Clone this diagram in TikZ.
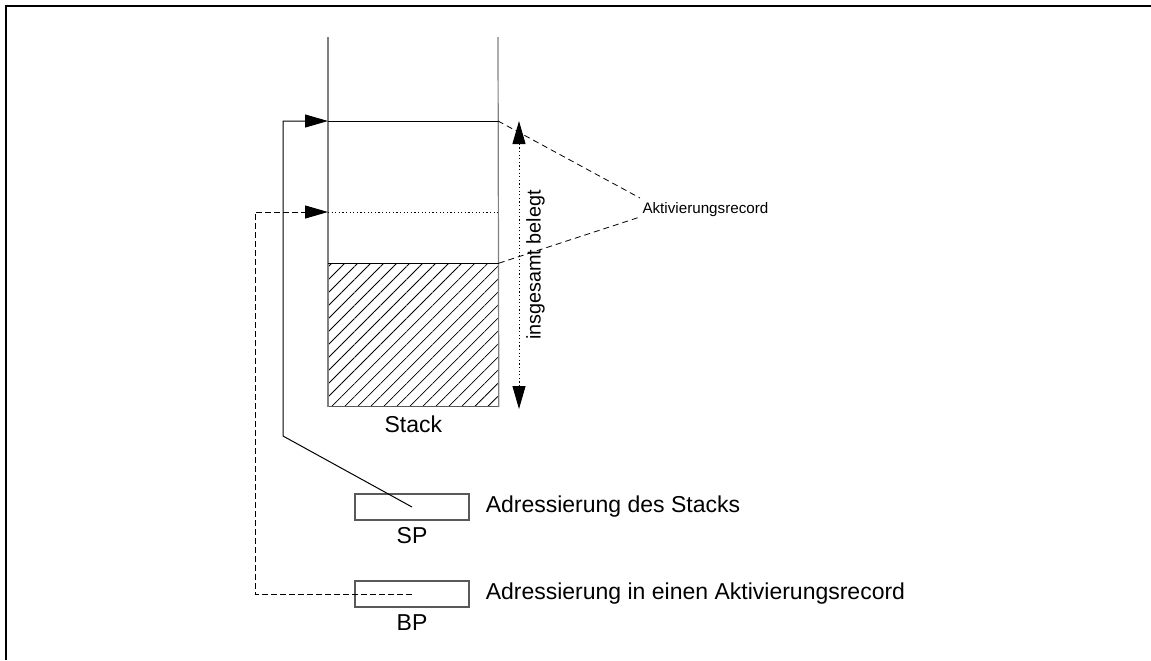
\documentclass[tikz,border=0pt]{standalone}
\usepackage{fontspec}
\setmainfont{Liberation Sans}
\usetikzlibrary{positioning,arrows.meta,patterns.meta}

\tikzset{
  wall/.style={gray, line width=0.6pt},
  ptr/.style={-{Triangle[length=11.5pt,width=6.5pt]}},
  reg/.style={draw=gray!70!black, line width=0.6pt, minimum width=57pt, minimum height=13pt, inner sep=0pt},
  lbl/.style={font=\fontsize{11.5}{13}\selectfont},
  brace/.style={dash pattern=on 3pt off 2pt, line width=0.4pt},
  fine/.style={dash pattern=on 0.6pt off 1.2pt},
}

\begin{document}
\begin{tikzpicture}[x=0.5pt, y=-0.5pt, line width=0.5pt]
  \useasboundingbox (0,0) rectangle (1151,660);
  \draw[line width=1pt] (6,660) -- (6,6) -- (1151,6);

  % belegter Teil und Stackwaende
  \node[draw=gray!70!black, line width=0.6pt,
        pattern={Lines[angle=45,distance=4.6pt,line width=0.4pt]},
        minimum width=85pt, minimum height=71.5pt, inner sep=0pt,
        anchor=south west] (used) at (328,407) {};
  \node[lbl, below=1pt of used] (stack) {Stack};
  \draw[wall] (used.south west) -- (328,37);
  \draw[wall] (used.south east) -- (498,37);
  \draw (used.north west) -- (used.north east);

  \coordinate (top)  at (328,121);
  \coordinate (topr) at (498,121);
  \coordinate (mid)  at (328,212);
  \coordinate (midr) at (498,212);

  % Register
  \node[reg] (sp) at (412,507) {};
  \node[lbl, below=0pt of sp] (spname) {SP};
  \node[lbl, right=4.5pt of sp] (sptext) {Adressierung des Stacks};
  \node[reg] (bp) at (412,594) {};
  \node[lbl, below=0pt of bp] (bpname) {BP};
  \node[lbl, right=4.5pt of bp] (bptext) {Adressierung in einen Aktivierungsrecord};

  % Zeiger
  \draw[ptr] (sp.center) -- (283,436) -- (283,121) -- (top);
  \draw (top) -- (topr);
  \draw[dash pattern=on 3pt off 1.5pt, ptr] (bp.center) -- (255,594) -- (255,212) -- (mid);
  \draw[fine] (mid) -- (midr);

  % Aktivierungsrecord
  \node[font=\fontsize{7.6}{9}\selectfont, anchor=west, inner sep=1pt] (ar) at (640,210) {Aktivierungsrecord};
  \draw[brace] (topr) -- ([yshift=6pt]ar.west);
  \draw[brace] (used.north east) -- ([yshift=-3.5pt]ar.west);

  % Gesamtgroesse
  \coordinate (s1) at (519,121);
  \coordinate (s2) at (519,409);
  \draw[fine, {Triangle[length=11.5pt,width=6.5pt]}-{Triangle[length=11.5pt,width=6.5pt]}] (s1) --
    node[anchor=north, rotate=90, font=\fontsize{9.9}{12}\selectfont] (total) {insgesamt belegt} (s2);
\end{tikzpicture}
\end{document}
